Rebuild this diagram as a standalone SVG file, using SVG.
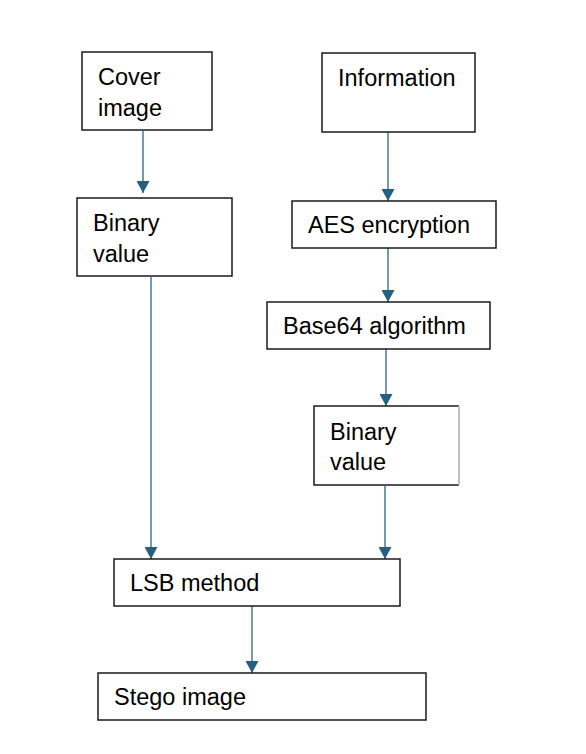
<svg xmlns="http://www.w3.org/2000/svg" width="586" height="754" viewBox="0 0 586 754">
<defs>
<style>
.box{fill:#fff;stroke:#1a1a1a;stroke-width:1.5}
.t{font-family:"Liberation Sans",Arial,sans-serif;font-size:23.5px;fill:#000}
.c{stroke:#2a6389;stroke-width:1.3;fill:none}
</style>
<marker id="arr" viewBox="0 0 12 13" markerWidth="12" markerHeight="13" refX="12" refY="6.5" orient="auto" markerUnits="userSpaceOnUse">
<path d="M0,0 L12,6.5 L0,13 Z" fill="#24607f"/>
</marker>
</defs>
<rect width="586" height="754" fill="#fff"/>
<g id="connectors">
<line class="c" x1="143" y1="131" x2="143" y2="193" marker-end="url(#arr)"/>
<line class="c" x1="388" y1="132" x2="388" y2="201" marker-end="url(#arr)"/>
<line class="c" x1="388" y1="248" x2="388" y2="302" marker-end="url(#arr)"/>
<line class="c" x1="386" y1="349" x2="386" y2="406" marker-end="url(#arr)"/>
<line class="c" x1="151" y1="277" x2="151" y2="559" marker-end="url(#arr)"/>
<line class="c" x1="385" y1="486" x2="385" y2="559" marker-end="url(#arr)"/>
<line class="c" x1="252" y1="606" x2="252" y2="673" marker-end="url(#arr)"/>
</g>
<g id="cover">
<rect class="box" x="82" y="52" width="130" height="78"/>
<text class="t" x="98" y="85">Cover</text>
<text class="t" x="98" y="116">image</text>
</g>
<g id="binary1">
<rect class="box" x="77" y="198" width="155" height="78"/>
<text class="t" x="93" y="231">Binary</text>
<text class="t" x="93" y="262">value</text>
</g>
<g id="information">
<rect class="box" x="322" y="53" width="153" height="79"/>
<text class="t" x="338" y="86">Information</text>
</g>
<g id="aes">
<rect class="box" x="292" y="201" width="204" height="47"/>
<text class="t" x="308" y="233">AES encryption</text>
</g>
<g id="base64">
<rect class="box" x="267" y="302" width="223" height="47"/>
<text class="t" x="283" y="334">Base64 algorithm</text>
</g>
<g id="binary2">
<path d="M459,406 L314,406 L314,485 L459,485" fill="#fff" stroke="#1a1a1a" stroke-width="1.5"/>
<line x1="459" y1="406" x2="459" y2="485" stroke="#c0c0c0" stroke-width="2"/>
<text class="t" x="330" y="440">Binary</text>
<text class="t" x="330" y="470">value</text>
</g>
<g id="lsb">
<rect class="box" x="114" y="559" width="286" height="47"/>
<text class="t" x="130" y="591">LSB method</text>
</g>
<g id="stego">
<rect class="box" x="98" y="673" width="328" height="47"/>
<text class="t" x="114" y="705">Stego image</text>
</g>
</svg>
